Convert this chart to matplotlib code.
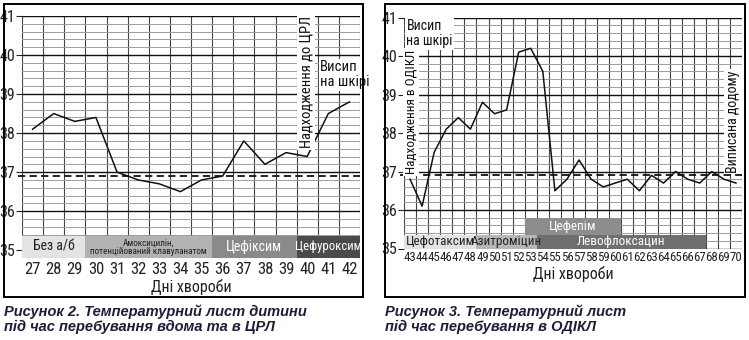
import matplotlib
matplotlib.use("Agg")
import matplotlib.pyplot as plt
from matplotlib import font_manager
from matplotlib.patches import Rectangle
import numpy as np

# --- figure 2: at home and in the district hospital ---
days_home = list(range(27, 43))
temp_home = [38.1, 38.5, 38.3, 38.4, 37.0, 36.8, 36.7, 36.5,
             36.8, 36.9, 37.8, 37.2, 37.5, 37.4, 38.5, 38.8]
drugs_home = ["Без а/б", "Амоксицилін,\nпотенційований клавуланатом",
              "Цефіксим", "Цефуроксим"]
drugs_home_start = [27, 30, 36, 40]
drugs_home_end = [29, 35, 39, 42]

# --- figure 3: regional children's hospital ---
days_icu = list(range(43, 71))
temp_icu = [36.8, 36.1, 37.5, 38.1, 38.4, 38.1, 38.8, 38.5, 38.6, 40.1,
            40.2, 39.6, 36.5, 36.8, 37.3, 36.8, 36.6, 36.7, 36.8, 36.5,
            36.9, 36.7, 37.0, 36.8, 36.7, 37.0, 36.8, 36.7]
drugs_icu = ["Цефотаксим", "Азитроміцин", "Левофлоксацин", "Цефепім"]
drugs_icu_start = [43, 49, 54, 53]
drugs_icu_end = [48, 53, 67, 60]

norm_line = 36.9
temp_ticks = [35, 36, 37, 38, 39, 40, 41]

# look for a narrow sans face; otherwise shrink the regular one a bit
ttf = font_manager.fontManager.ttflist
narrow = None
for name in ["Liberation Sans Narrow", "Roboto Condensed", "Open Sans Condensed",
             "Noto Sans Condensed"]:
    if any(f.name == name for f in ttf):
        narrow = (name, "normal")
        break
if narrow is None:
    for name in ["Roboto", "Noto Sans", "Open Sans", "DejaVu Sans"]:
        if any(f.name == name and f.stretch == "condensed" and f.style == "normal"
               for f in ttf):
            narrow = (name, "condensed")
            break
if narrow is None:
    narrow = ("Liberation Sans", "normal")
    k = 0.86
else:
    k = 1.0

plt.rcParams["font.family"] = [narrow[0], "Liberation Sans", "DejaVu Sans"]
plt.rcParams["font.stretch"] = narrow[1]

W, H = 749, 340


def px_axes(fig, x0, y0, x1, y1):
    # axes placed by pixel box (top-left origin)
    return fig.add_axes([x0 / W, (H - y1) / H, (x1 - x0) / W, (y1 - y0) / H])


def frame(fig, x0, y0, x1, y1):
    fig.add_artist(Rectangle((x0 / W, (H - y1) / H), (x1 - x0) / W, (y1 - y0) / H,
                             transform=fig.transFigure, fill=False, lw=1.4, ec="black"))


def sheet(ax, days, temps, ymin, xfs, xpad):
    ax.set_xlim(days[0] - 0.5, days[-1] + 0.5)
    ax.set_ylim(ymin, 41)
    ax.set_yticks(temp_ticks)
    ax.set_yticks(np.arange(ymin, 41.01, 0.2), minor=True)
    ax.set_xticks(days)
    ax.set_xticks(np.arange(days[0] - 0.5, days[-1] + 0.6, 1), minor=True)
    ax.tick_params(axis="y", which="major", length=4, width=0.8, pad=1,
                   labelsize=11.5 * k, colors="#222222")
    ax.tick_params(axis="y", which="minor", length=0)
    ax.tick_params(axis="x", which="both", length=0, labelsize=xfs * k,
                   colors="#222222", pad=xpad)
    ax.grid(axis="y", which="minor", color="#9c9c9c", lw=0.7)
    ax.grid(axis="y", which="major", color="#111111", lw=1.0)
    ax.grid(axis="x", which="minor", color="#444444", lw=0.8)
    ax.set_axisbelow(True)
    for s in ax.spines.values():
        s.set_visible(False)
    ax.plot(days, temps, color="#111111", lw=1.1, zorder=4)
    ax.axhline(norm_line, xmin=-0.012, color="#111111", lw=1.3,
               dashes=(4, 2.4), zorder=4, clip_on=False)
    ax.set_xlabel("Дні хвороби", fontsize=11.5 * k, color="#222222", labelpad=1)


def drug_bars(ax, names, starts, ends, y0, y1, colors, tcolors, fsizes):
    for n, s, e, c, tc, fs in zip(names, starts, ends, colors, tcolors, fsizes):
        ax.bar(s - 0.5, y1 - y0, width=e - s + 1, bottom=y0, align="edge",
               color=c, edgecolor="none", zorder=3)
        ax.text((s + e) / 2, (y0 + y1) / 2, n, ha="center", va="center",
                fontsize=fs * k, color=tc, zorder=5, linespacing=0.95)


def note(ax, x, y, s, rot=0, ha="left", va="center", fs=10.5):
    ax.text(x, y, s, rotation=rot, ha=ha, va=va, fontsize=fs * k, color="#111111",
            zorder=6, linespacing=1.05,
            bbox=dict(boxstyle="square,pad=0.12", fc="white", ec="none"))


fig = plt.figure(figsize=(W / 100, H / 100), dpi=100)
fig.patch.set_facecolor("white")

# left sheet
frame(fig, 4, 4, 363, 297)
ax1 = px_axes(fig, 22, 16, 360, 258)
sheet(ax1, days_home, temp_home, 34.8, 12, 3)
drug_bars(ax1, drugs_home, drugs_home_start, drugs_home_end, 34.8, 35.37,
          ["#e3e3e3", "#b2b2b2", "#8a8a8a", "#4b4b4b"],
          ["#222222", "#222222", "white", "white"],
          [10, 6.6, 10, 9.2])
note(ax1, 39.95, 39.3, "Надходження до ЦРЛ", rot=90, ha="center", fs=10.5)
note(ax1, 40.62, 39.5, "Висип\nна шкірі", fs=10.5)

# right sheet
frame(fig, 385, 4, 745, 297)
ax2 = px_axes(fig, 404, 17.5, 742, 248.5)
sheet(ax2, days_icu, temp_icu, 35.0, 9.3, 2)
drug_bars(ax2, drugs_icu[:3], drugs_icu_start[:3], drugs_icu_end[:3], 35.0, 35.35,
          ["#e2e2e2", "#b6b6b6", "#6f6f6f"],
          ["#222222", "#222222", "white"],
          [9.5, 9.5, 9.5])
drug_bars(ax2, drugs_icu[3:], drugs_icu_start[3:], drugs_icu_end[3:], 35.35, 35.8,
          ["#8d8d8d"], ["white"], [9.5])
note(ax2, 43.05, 38.55, "Надходження в ОДІКЛ", rot=90, ha="center", fs=9.5)
note(ax2, 69.75, 38.3, "Виписана додому", rot=90, ha="center", fs=10)
note(ax2, 42.7, 40.58, "Висип\nна шкірі", fs=10)

# captions
cap = dict(fontsize=10.5, fontweight="bold", fontstyle="italic", color="#1d1d3a",
           family=["Liberation Sans", "DejaVu Sans"], stretch="normal",
           va="top", ha="left", linespacing=1.15)
fig.text(4 / W, 1 - 304 / H, "Рисунок 2. Температурний лист дитини\nпід час перебування вдома та в ЦРЛ", **cap)
fig.text(385 / W, 1 - 304 / H, "Рисунок 3. Температурний лист\nпід час перебування в ОДІКЛ", **cap)

fig.savefig("out.png", dpi=100, facecolor="white")
